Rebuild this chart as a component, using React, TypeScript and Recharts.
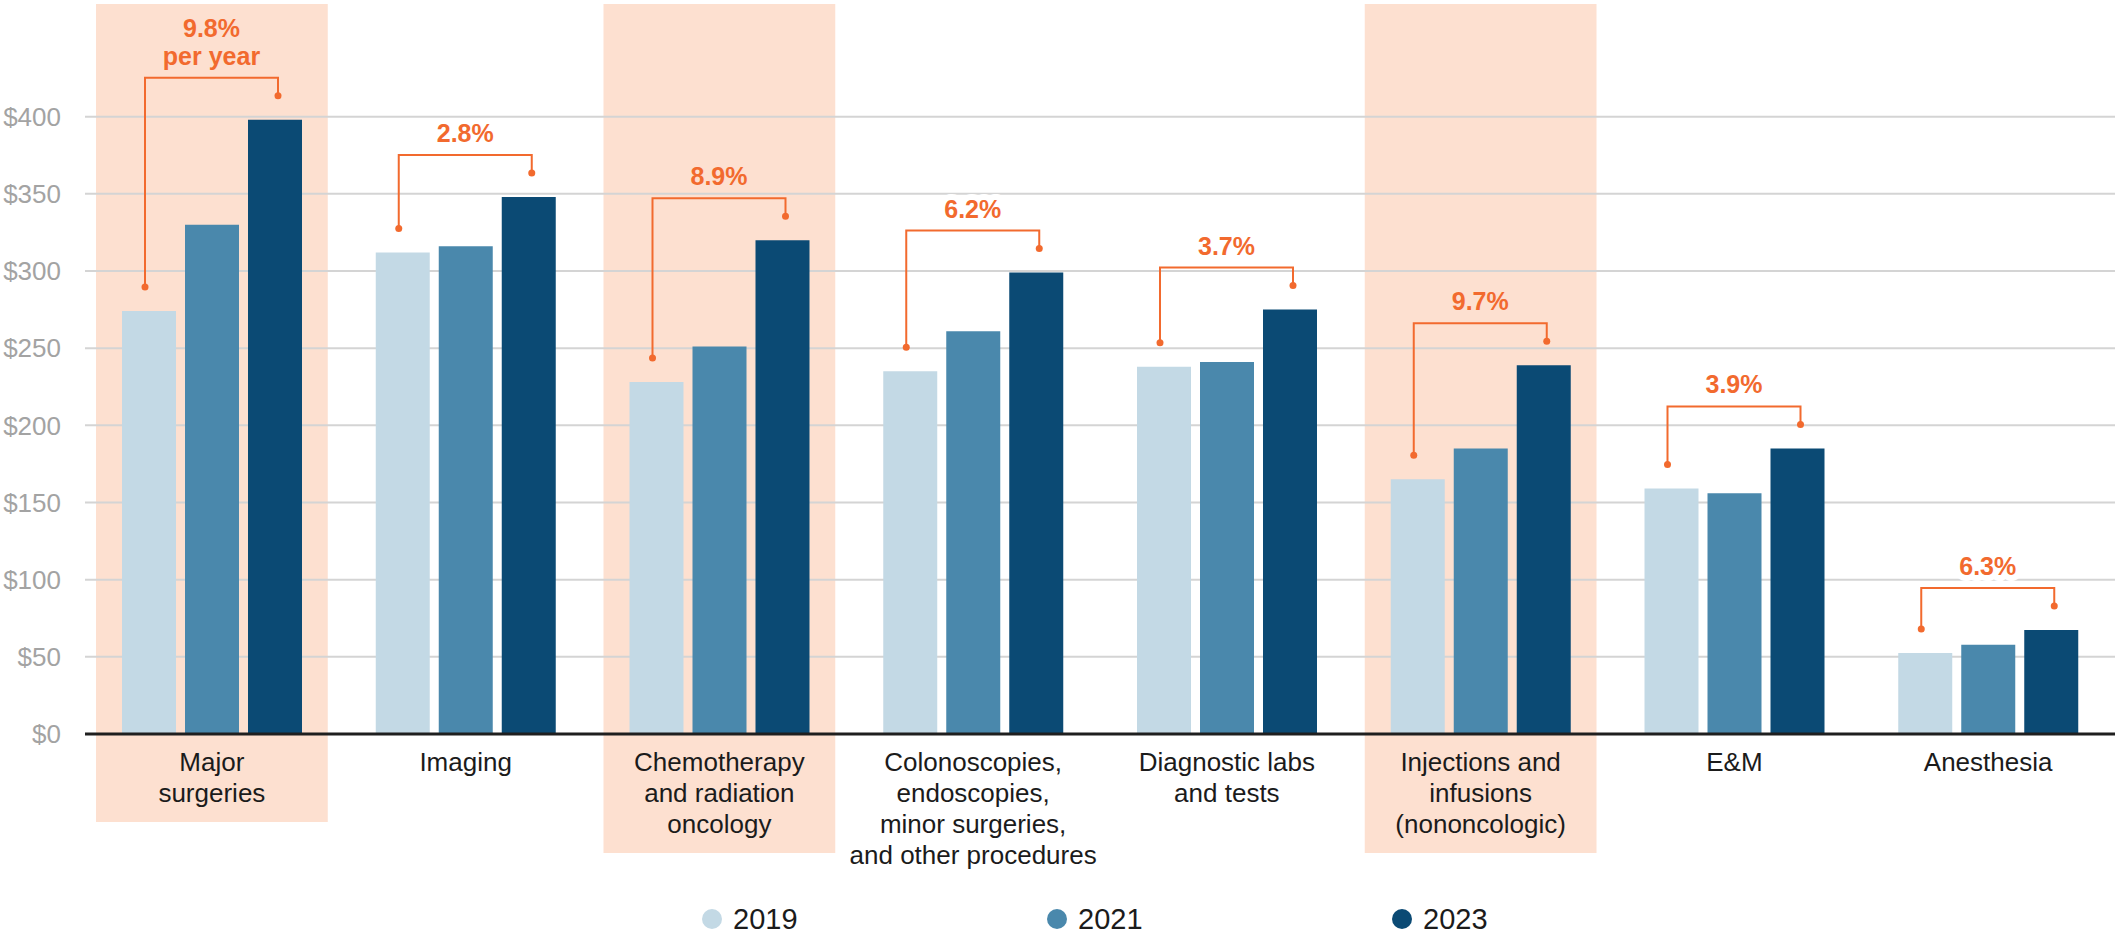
import React from 'react';
import {
  BarChart,
  Bar,
  XAxis,
  YAxis,
  CartesianGrid,
  ReferenceArea,
  LabelList,
  Legend
} from 'recharts';

const categories = [
  'Major surgeries',
  'Imaging',
  'Chemotherapy and radiation oncology',
  'Colonoscopies, endoscopies, minor surgeries, and other procedures',
  'Diagnostic labs and tests',
  'Injections and infusions (nononcologic)',
  'E&M',
  'Anesthesia'
];
const categoryLines = [
  ['Major', 'surgeries'],
  ['Imaging'],
  ['Chemotherapy', 'and radiation', 'oncology'],
  ['Colonoscopies,', 'endoscopies,', 'minor surgeries,', 'and other procedures'],
  ['Diagnostic labs', 'and tests'],
  ['Injections and', 'infusions', '(nononcologic)'],
  ['E&M'],
  ['Anesthesia']
];
const values2019 = [274, 312, 228, 235, 238, 165, 159, 52.5];
const values2021 = [330, 316, 251, 261, 241, 185, 156, 57.8];
const values2023 = [398, 348, 320, 299, 275, 239, 185, 67.4];
const growthLabels = ['9.8%', '2.8%', '8.9%', '6.2%', '3.7%', '9.7%', '3.9%', '6.3%'];
const growthNotes = ['per year', '', '', '', '', '', '', ''];
const highlighted = [
  'Major surgeries',
  'Chemotherapy and radiation oncology',
  'Injections and infusions (nononcologic)'
];
const yTicks = [0, 50, 100, 150, 200, 250, 300, 350, 400];

const data = categories.map((name, i) => ({
  name,
  y2019: values2019[i],
  y2021: values2021[i],
  y2023: values2023[i]
}));

const FONT = "'Liberation Sans', Arial, sans-serif";
const BAND = '#FDE0D0';
const ORANGE = '#F26A2E';
const BAR_GAP = 9;

function CategoryTick(props: any) {
  const { x, y, payload } = props;
  const i = categories.indexOf(payload.value);
  const lines = categoryLines[i] ?? [payload.value];
  return (
    <text x={x} y={y} textAnchor="middle" fontFamily={FONT} fontSize={26} fill="#1b1b1b">
      {lines.map((line, k) => (
        <tspan key={k} x={x} dy={k === 0 ? 37 : 31}>
          {line}
        </tspan>
      ))}
    </text>
  );
}

function bandShape(lines: number) {
  return (props: any) => {
    const { x, y, width, height } = props;
    const bottom = y + height + 37 + 31 * (lines - 1) + 20;
    return <rect x={x + 11} y={y} width={width - 22} height={bottom - y} fill={BAND} />;
  };
}

function GrowthBracket(props: any) {
  const vb = props.viewBox ?? props;
  const { x, y, width, height } = vb;
  const i = typeof props.index === 'number' ? props.index : values2023.indexOf(Number(props.value));
  if (i < 0 || !height) return null;
  const base = y + height;
  const k = height / values2023[i];
  const cxR = x + width / 2 + 3;
  const cxL = x + width / 2 - 2 * (width + BAR_GAP) - 4;
  const yR = y - 24;
  const yL = base - values2019[i] * k - 24;
  const yH = yR - 18;
  const mid = (cxL + cxR) / 2;
  const halo = highlighted.includes(categories[i]) ? BAND : '#ffffff';
  const note = growthNotes[i];
  const textProps = {
    x: mid,
    textAnchor: 'middle' as const,
    fontFamily: FONT,
    fontSize: 25,
    fontWeight: 700,
    fill: ORANGE,
    stroke: halo,
    strokeWidth: 12,
    strokeLinejoin: 'round' as const,
    paintOrder: 'stroke'
  };
  return (
    <g>
      <path
        d={`M${cxL},${yL} V${yH} H${cxR} V${yR}`}
        fill="none"
        stroke={ORANGE}
        strokeWidth={2}
      />
      <circle cx={cxL} cy={yL} r={3.5} fill={ORANGE} />
      <circle cx={cxR} cy={yR} r={3.5} fill={ORANGE} />
      {note ? (
        <>
          <text {...textProps} y={yH - 41}>
            {growthLabels[i]}
          </text>
          <text {...textProps} y={yH - 13}>
            {note}
          </text>
        </>
      ) : (
        <text {...textProps} y={yH - 13}>
          {growthLabels[i]}
        </text>
      )}
    </g>
  );
}

function LegendContent(props: any) {
  const { payload } = props;
  return (
    <div style={{ display: 'flex' }}>
      {(payload ?? []).map((entry: any) => (
        <div key={entry.value} style={{ width: 345, display: 'flex', alignItems: 'center' }}>
          <span
            style={{
              display: 'inline-block',
              width: 20,
              height: 20,
              borderRadius: '50%',
              background: entry.color,
              marginRight: 11
            }}
          />
          <span style={{ fontFamily: FONT, fontSize: 29, color: '#1b1b1b', lineHeight: '30px' }}>
            {entry.value}
          </span>
        </div>
      ))}
    </div>
  );
}

export default function App() {
  return (
    <div
      style={{
        position: 'absolute',
        left: 0,
        top: 0,
        width: 2115,
        height: 937,
        background: '#ffffff',
        overflow: 'hidden'
      }}
    >
      <BarChart
        width={2115}
        height={937}
        data={data}
        margin={{ top: 4, right: 0, left: 0, bottom: 0 }}
        barSize={54}
        barGap={BAR_GAP}
      >
        {highlighted.map((name) => (
          <ReferenceArea
            key={name}
            x1={name}
            x2={name}
            fill={BAND}
            fillOpacity={1}
            stroke="none"
            zIndex={-150}
            shape={bandShape(categoryLines[categories.indexOf(name)].length)}
          />
        ))}
        <CartesianGrid
          vertical={false}
          horizontalValues={yTicks}
          stroke="#d4d4d4"
          strokeWidth={2}
        />
        <XAxis
          dataKey="name"
          interval={0}
          height={203}
          tickLine={false}
          tickSize={0}
          tickMargin={0}
          axisLine={{ stroke: '#1f1f1f', strokeWidth: 3 }}
          tick={<CategoryTick />}
        />
        <YAxis
          width={85}
          domain={[0, 473]}
          ticks={yTicks}
          allowDataOverflow
          axisLine={false}
          tickLine={false}
          tickSize={0}
          tickMargin={24}
          tick={{ fill: '#a3a3a3', fontSize: 26, fontFamily: FONT }}
          tickFormatter={(v) => `$${v}`}
        />
        <Legend
          layout="horizontal"
          verticalAlign="middle"
          align="center"
          wrapperStyle={{ position: 'absolute', top: 904, left: 702, width: 1040 }}
          content={<LegendContent />}
        />
        <Bar dataKey="y2019" name="2019" fill="#C3D9E5" isAnimationActive={false} />
        <Bar dataKey="y2021" name="2021" fill="#4A88AC" isAnimationActive={false} />
        <Bar dataKey="y2023" name="2023" fill="#0B4A74" isAnimationActive={false}>
          <LabelList dataKey="y2023" content={<GrowthBracket />} />
        </Bar>
      </BarChart>
    </div>
  );
}
